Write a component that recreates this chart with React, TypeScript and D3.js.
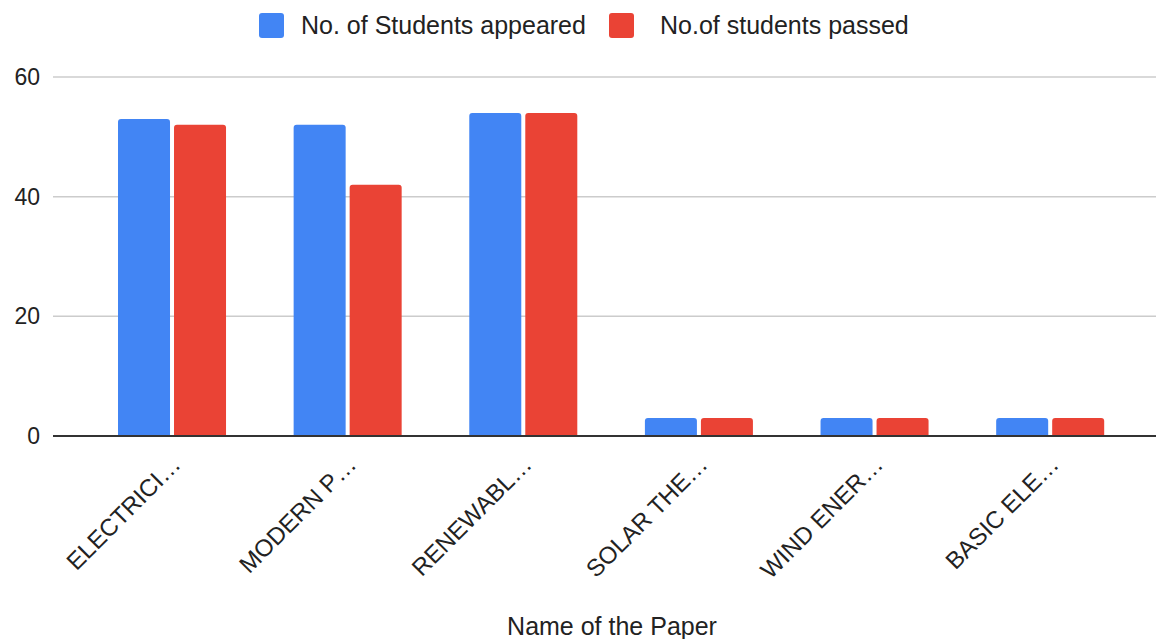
import React, { useEffect } from "react";
import * as d3 from "d3";

const categories = ["ELECTRICI…", "MODERN P…", "RENEWABL…", "SOLAR THE…", "WIND ENER…", "BASIC ELE…"];
const seriesNames = ["No. of Students appeared", "No.of students passed"];
const appeared = [53, 52, 54, 3, 3, 3];
const passed = [52, 42, 54, 3, 3, 3];
const yTicks = [0, 20, 40, 60];
const colors = ["#4285F4", "#EA4335"];
const xTitle = "Name of the Paper";

const W = 1156;
const H = 639;
const FONT = "Arial, 'Liberation Sans', sans-serif";

function topRoundedBar(x: number, y: number, w: number, h: number, r: number) {
  const rr = Math.min(r, h, w / 2);
  return `M${x},${y + h}V${y + rr}Q${x},${y} ${x + rr},${y}H${x + w - rr}Q${x + w},${y} ${x + w},${y + rr}V${y + h}Z`;
}

export default function App() {
  useEffect(() => {
    document.body.style.margin = "0";
  }, []);

  const plotLeft = 53;
  const plotRight = 1156;
  const y = d3.scaleLinear().domain([0, 60]).range([436, 77]);
  const pi = 1 - 108 / 175.6;
  const x0 = d3.scaleBand<string>().domain(categories).range([84.2, 1138]).paddingInner(pi).paddingOuter(pi / 2);
  const x1 = d3.scaleBand<string>().domain(seriesNames).range([0, x0.bandwidth()]).paddingInner(0.0714);
  const values = [appeared, passed];

  return (
    <svg width={W} height={H} style={{ position: "absolute", left: 0, top: 0, background: "#fff" }} fontFamily={FONT}>
      {/* legend */}
      <g>
        <rect x={259} y={13} width={25} height={25} rx={3} fill={colors[0]} />
        <text x={301} y={34} fontSize={25} fill="#222">{seriesNames[0]}</text>
        <rect x={609} y={13} width={25} height={25} rx={3} fill={colors[1]} />
        <text x={660} y={34} fontSize={25} fill="#222">{seriesNames[1]}</text>
      </g>
      {/* gridlines & y ticks */}
      {yTicks.map((t) => (
        <g key={t}>
          {t !== 0 && <line x1={plotLeft} x2={plotRight} y1={y(t)} y2={y(t)} stroke="#cccccc" strokeWidth={1.5} />}
          <text x={40} y={y(t) + 8} fontSize={23} textAnchor="end" fill="#222">{t}</text>
        </g>
      ))}
      {/* bars */}
      {categories.map((c, i) => (
        <g key={c} transform={`translate(${x0(c)},0)`}>
          {seriesNames.map((s, j) => {
            const v = values[j][i];
            const top = y(v);
            return (
              <path key={s} d={topRoundedBar(x1(s)!, top, x1.bandwidth(), y(0) - top, 3)} fill={colors[j]} />
            );
          })}
        </g>
      ))}
      {/* baseline */}
      <line x1={plotLeft} x2={plotRight} y1={y(0)} y2={y(0)} stroke="#333" strokeWidth={2} />
      {/* category labels */}
      {categories.map((c) => {
        const cx = x0(c)! + x0.bandwidth() / 2 + 10;
        const cy = 466;
        return (
          <text key={c} x={cx} y={cy} fontSize={24} textAnchor="end" fill="#222" transform={`rotate(-45 ${cx} ${cy})`}>
            {c}
          </text>
        );
      })}
      {/* x title */}
      <text x={612} y={635} fontSize={25} textAnchor="middle" fill="#222">{xTitle}</text>
    </svg>
  );
}
